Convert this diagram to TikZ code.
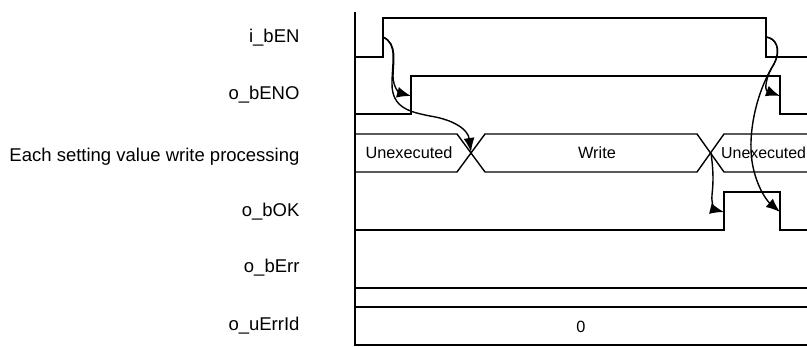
\documentclass[tikz,border=0pt]{standalone}
\usepackage{fontspec}
\setmainfont{Liberation Sans}
\usetikzlibrary{arrows.meta}

\tikzset{
  wave/.style={line width=1.4pt},
  cause/.style={line width=1.4pt, -{Latex[length=14pt,width=11pt]}},
  sig/.style={anchor=east, font=\fontsize{18.5}{20}\selectfont},
  bustext/.style={font=\fontsize{16.3}{18}\selectfont}
}

\begin{document}
\begin{tikzpicture}[x=1pt,y=-1pt]
\useasboundingbox (0,0) rectangle (807,347);
\clip (0,0) rectangle (807,347);

% signal names
\node[sig] (en) at (303,38) {i\_bEN};
\node[sig] (eno) at (303,95) {o\_bENO};
\node[sig] (proc) at (303,157) {Each setting value write processing};
\node[sig] (ok) at (303,212) {o\_bOK};
\node[sig] (err) at (303,268) {o\_bErr};
\node[sig] (errid) at (303,326) {o\_uErrId};

% time axis
\draw[wave] (355,12) -- (355,346);

% i_bEN
\draw[wave] (355,57) -- (383,57) -- (383,18) -- (766,18) -- (766,57) -- (807,57);
% o_bENO
\draw[wave] (355,114) -- (411,114) -- (411,76) -- (780,76) -- (780,114) -- (807,114);
% processing
\draw[wave] (355,134) -- (457,134) -- (485,172) -- (697,172) -- (724,134) -- (807,134);
\draw[wave] (355,172) -- (457,172) -- (485,134) -- (697,134) -- (724,172) -- (807,172);
\node[bustext] (unexec1) at (409,153) {Unexecuted};
\node[bustext] (wr) at (597,153) {Write};
\node[bustext, anchor=west, inner sep=0pt, font=\fontsize{15.9}{18}\selectfont] (unexec2) at (721,153) {Unexecuted};
% o_bOK
\draw[wave] (355,230) -- (724,230) -- (724,192) -- (780,192) -- (780,230) -- (807,230);
% o_bErr
\draw[wave] (355,288) -- (807,288);
% o_uErrId
\draw[wave] (355,307) -- (807,307);
\draw[wave] (355,345) -- (807,345);
\node[bustext] (zero) at (581,327) {0};

% edge points
\coordinate (enup) at (383,37);
\coordinate (enoup) at (411,96);
\coordinate (cross1) at (471,152);
\coordinate (endown) at (766,37);
\coordinate (enodown) at (780,96);
\coordinate (cross2) at (711,153);
\coordinate (okup) at (724,212);
\coordinate (okdown) at (780,212);

% causes
\draw[cause] (enup) .. controls (398,44) and (393,62) .. (393,76)
  .. controls (393,88) and (400,93) .. (enoup);
\draw[cause] (enup) .. controls (398,44) and (392,62) .. (392,84)
  .. controls (392,108) and (410,112) .. (430,116)
  .. controls (455,120) and (468,130) .. (cross1);
\draw[cause] (endown) .. controls (775,38) and (782,48) .. (774,64)
  .. controls (766,76) and (764,90) .. (enodown);
\draw[cause] (endown) .. controls (775,38) and (782,48) .. (774,64)
  .. controls (760,86) and (750,120) .. (751,150)
  .. controls (752,180) and (766,200) .. (okdown);
\draw[cause] (cross2) .. controls (714,175) and (713,185) .. (712,195)
  .. controls (711,205) and (716,210) .. (okup);
\end{tikzpicture}
\end{document}
